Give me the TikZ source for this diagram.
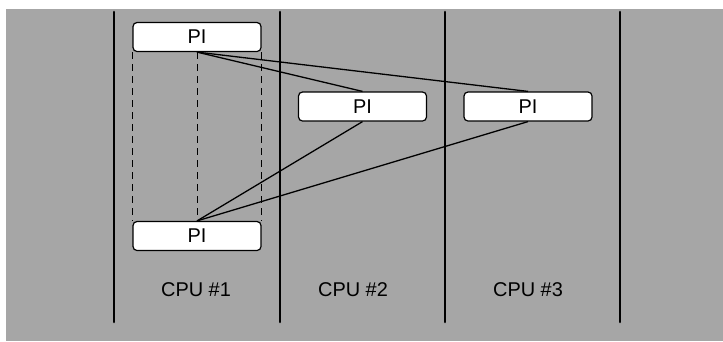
\documentclass[tikz,border=0pt]{standalone}
\usepackage{fontspec}
\setmainfont{Liberation Sans}
\definecolor{bggray}{RGB}{166,166,166}
\begin{document}
\begin{tikzpicture}[x=1bp,y=-1bp,
  pibox/.style={draw=black,line width=1.2bp,fill=white,rounded corners=4bp,
    minimum width=128bp,minimum height=29bp,inner sep=0pt,font=\fontsize{20}{22}\selectfont},
  divider/.style={line width=2.6bp,line cap=round},
  link/.style={line width=1.3bp},
  guide/.style={line width=0.6bp,dash pattern=on 7bp off 5bp},
  cpulabel/.style={font=\fontsize{20}{22}\selectfont,inner sep=0pt}]
\useasboundingbox (0,0) rectangle (723,341);
\fill[bggray] (6,9) rectangle (723,341);
% dividers
\coordinate (d1t) at (114,12); \coordinate (d1b) at (114,322);
\coordinate (d2t) at (280,12); \coordinate (d2b) at (280,322);
\coordinate (d3t) at (445,12); \coordinate (d3b) at (445,322);
\coordinate (d4t) at (620,12); \coordinate (d4b) at (620,322);
\draw[divider] (d1t) -- (d1b);
\draw[divider] (d2t) -- (d2b);
\draw[divider] (d3t) -- (d3b);
\draw[divider] (d4t) -- (d4b);
% boxes
\node[pibox] (top) at (197,37) {PI};
\node[pibox] (mid) at (362.5,106.5) {PI};
\node[pibox] (right) at (528,106.5) {PI};
\node[pibox] (bot) at (197,236) {PI};
% dashed guides
\draw[guide] (top.south west) -- (bot.north west);
\draw[guide] (top.south) -- (bot.north);
\draw[guide] (top.south east) -- (bot.north east);
% links
\draw[link] (top.south) -- (mid.north);
\draw[link] (top.south) -- (right.north);
\draw[link] (bot.north) -- (mid.south);
\draw[link] (bot.north) -- (right.south);
% labels
\node[cpulabel] (c1) at (196,290) {CPU \#1};
\node[cpulabel] (c2) at (353,290) {CPU \#2};
\node[cpulabel] (c3) at (528,290) {CPU \#3};
\end{tikzpicture}
\end{document}
